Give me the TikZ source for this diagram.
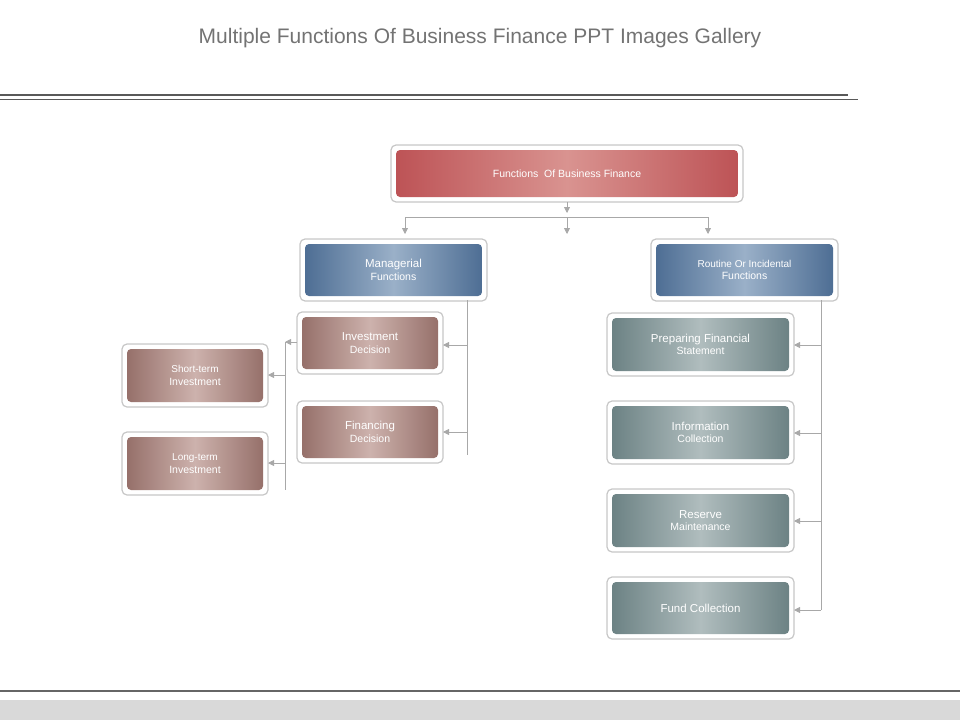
\documentclass[tikz,border=0pt]{standalone}
\usepackage{fontspec}
\setmainfont{Liberation Sans}
\usetikzlibrary{arrows.meta}
\definecolor{redE}{HTML}{BD5356}\definecolor{redC}{HTML}{D99390}
\definecolor{bluE}{HTML}{4E6E94}\definecolor{bluC}{HTML}{9AB0C8}
\definecolor{brnE}{HTML}{96706A}\definecolor{brnC}{HTML}{CDB2AD}
\definecolor{grnE}{HTML}{6C8284}\definecolor{grnC}{HTML}{B0BDBE}
\definecolor{conn}{HTML}{A8A8A8}
\tikzset{
 frame/.style={draw=black!22,line width=1.2pt,fill=white,rounded corners=5pt},
 box/.style={rounded corners=4pt,text=white,align=center,font=\fontsize{10.5}{12.5}\selectfont},
 cn/.style={draw=conn,line width=0.8pt},
 ar/.style={cn,-{Triangle[length=6pt,width=6pt]}}
}
\begin{document}
\begin{tikzpicture}[x=1pt,y=-1pt]
\useasboundingbox (0,0) rectangle (960,720);
\node[text=black!55,font=\fontsize{21}{24}\selectfont] (title) at (480,38) {Multiple Functions Of Business Finance PPT Images Gallery};
\draw[black!65,line width=1.6pt] (0,95) -- (848,95);
\draw[black!65,line width=0.9pt] (0,99) -- (858,99);
\draw[black!60,line width=2.5pt] (0,691) -- (960,691);
\fill[black!15] (0,700) rectangle (960,720);
% boxes
\def\mk#1#2#3#4#5#6#7#8{%
 \draw[frame] (#2-5,#3-5) rectangle (#4+5,#5+5);
 \shade[rounded corners=4pt,left color=#6,right color=#6,middle color=#7] (#2,#3) rectangle (#4,#5);
 \node[box] (#1) at ({(#2+#4)/2},{(#3+#5)/2}) [minimum width={#4-#2},minimum height={#5-#3}] {#8};}
\mk{top}{396}{150}{738}{197}{redE}{redC}{Functions\ \ Of Business Finance}
\mk{man}{305}{244}{482}{296}{bluE}{bluC}{\fontsize{11.5}{14}\selectfont Managerial\\Functions}
\mk{rou}{656}{244}{833}{296}{bluE}{bluC}{\fontsize{10}{12}\selectfont Routine Or Incidental\\Functions}
\mk{inv}{302}{317}{438}{369}{brnE}{brnC}{\fontsize{11.5}{14}\selectfont Investment\\Decision}
\mk{fin}{302}{406}{438}{458}{brnE}{brnC}{\fontsize{11.5}{14}\selectfont Financing\\Decision}
\mk{sho}{127}{349}{263}{402}{brnE}{brnC}{\fontsize{10}{12}\selectfont Short-term\\Investment}
\mk{lon}{127}{437}{263}{490}{brnE}{brnC}{\fontsize{10}{12}\selectfont Long-term\\Investment}
\mk{pre}{612}{318}{789}{371}{grnE}{grnC}{\fontsize{11.5}{14}\selectfont Preparing Financial\\Statement}
\mk{inf}{612}{406}{789}{459}{grnE}{grnC}{\fontsize{11.5}{14}\selectfont Information\\Collection}
\mk{res}{612}{494}{789}{547}{grnE}{grnC}{\fontsize{11.5}{14}\selectfont Reserve\\Maintenance}
\mk{fun}{612}{582}{789}{634}{grnE}{grnC}{\fontsize{11.5}{14}\selectfont Fund Collection}
% connectors
\coordinate (h1) at (405,217); \coordinate (h2) at (708,217);
\coordinate (hm) at (567,217);
\draw[ar] (567,202) -- (567,213);
\draw[cn] (h1) -- (h2);
\draw[ar] (h1) -- (405,234);
\draw[ar] (hm) -- (567,234);
\draw[ar] (h2) -- (708,234);
\coordinate (v1) at (467,300); \coordinate (v1b) at (467,455);
\draw[cn] (v1) -- (v1b);
\draw[ar] (467,345) -- (443,345);
\draw[ar] (467,432) -- (443,432);
\coordinate (v2) at (285,342); \coordinate (v2b) at (285,490);
\draw[cn] (v2) -- (v2b);
\draw[ar] (297,342) -- (285,342);
\draw[ar] (285,375) -- (268,375);
\draw[ar] (285,463) -- (268,463);
\coordinate (v3) at (821,300); \coordinate (v3b) at (821,610);
\draw[cn] (v3) -- (v3b);
\draw[ar] (821,345) -- (794,345);
\draw[ar] (821,433) -- (794,433);
\draw[ar] (821,521) -- (794,521);
\draw[ar] (821,610) -- (794,610);
\end{tikzpicture}
\end{document}
